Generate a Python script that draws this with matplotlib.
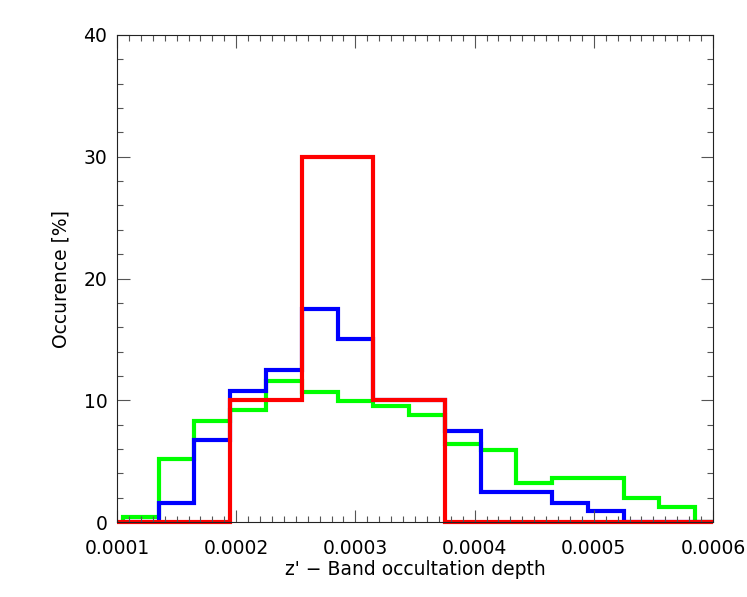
import numpy as np
import matplotlib
matplotlib.use("Agg")
import matplotlib.pyplot as plt
from matplotlib.ticker import MultipleLocator, FormatStrFormatter

# bin edges (width 3e-5) shared by green and blue
edges = np.array([0.000105, 0.000135, 0.000165, 0.000195, 0.000225, 0.000255,
                  0.000285, 0.000315, 0.000345, 0.000375, 0.000405, 0.000435,
                  0.000465, 0.000495, 0.000525, 0.000555, 0.000585, 0.000615])

green = [0.4, 5.2, 8.3, 9.2, 11.6, 10.7, 9.9, 9.5, 8.8, 6.4, 5.9, 3.2,
         3.6, 3.6, 2.0, 1.2, 0.0]
blue = [0.0, 1.6, 6.7, 10.8, 12.5, 17.5, 15.0, 10.0, 10.0, 7.5, 2.5, 2.5,
        1.6, 0.9, 0.0, 0.0, 0.0]

red_edges = [0.0001, 0.000195, 0.000255, 0.000315, 0.000375, 0.0006]
red = [0, 10, 30, 10, 0]

fig = plt.figure(figsize=(7.47, 5.97), dpi=100)
ax = fig.add_axes([0.1566, 0.1256, 0.7979, 0.8158])

lw = 3.0
ax.stairs(green, edges, baseline=0, color='#00ff00', lw=lw)
ax.stairs(blue, edges, baseline=0, color='#0000ff', lw=lw)
ax.stairs(red, red_edges, baseline=None, color='#ff0000', lw=lw, clip_on=False)

ax.set_xlim(0.0001, 0.0006)
ax.set_ylim(0, 40)

ax.xaxis.set_major_locator(MultipleLocator(0.0001))
ax.xaxis.set_minor_locator(MultipleLocator(0.00001))
ax.xaxis.set_major_formatter(FormatStrFormatter('%.4f'))
ax.yaxis.set_major_locator(MultipleLocator(10))
ax.yaxis.set_minor_locator(MultipleLocator(2))

fs = 13.5
ax.tick_params(which='both', direction='in', top=True, right=True,
               color='#555555', width=0.8, labelsize=fs)
ax.tick_params(which='major', length=9)
ax.tick_params(axis='x', which='major', pad=12)
ax.tick_params(axis='y', which='major', pad=7)
ax.tick_params(which='minor', length=4.5)
for sp in ax.spines.values():
    sp.set_linewidth(0.8)
    sp.set_color('#222222')

ax.set_xlabel("z' \u2212 Band occultation depth", fontsize=fs, labelpad=2)
ax.set_ylabel("Occurence [%]", fontsize=fs, labelpad=9)

fig.savefig('out.png', dpi=100)
